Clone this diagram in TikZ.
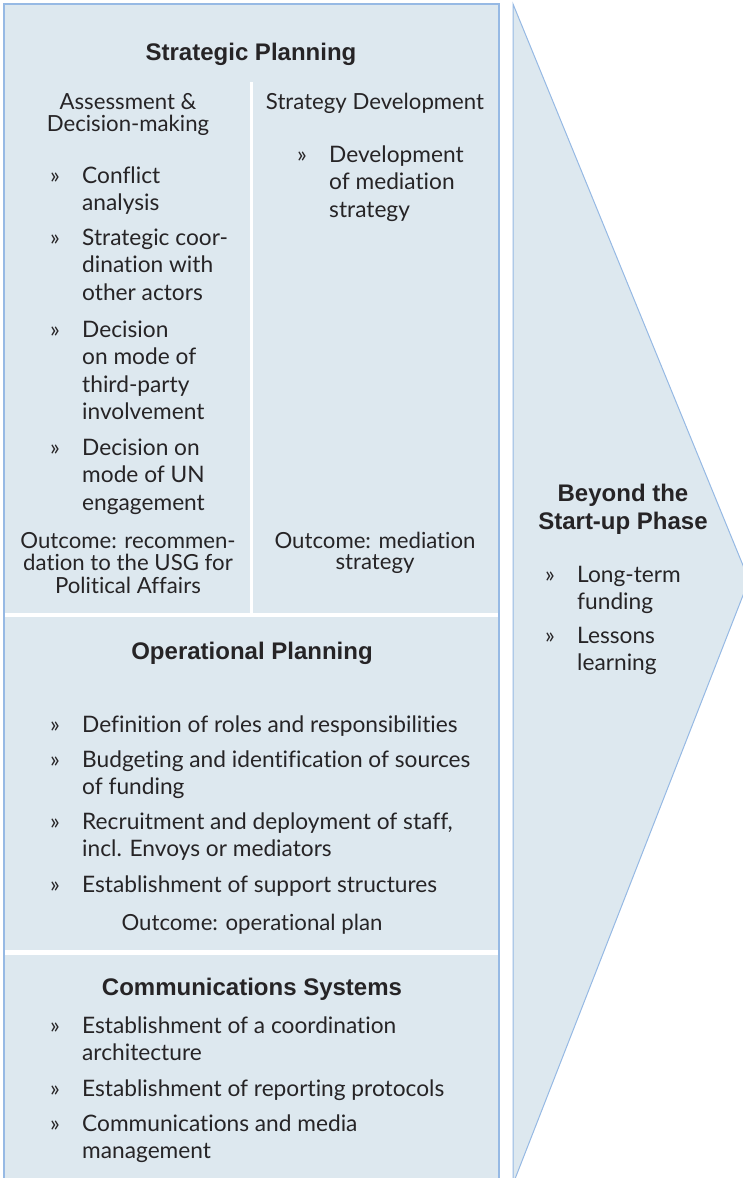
\documentclass[tikz,border=0pt]{standalone}
\usepackage{fontspec}
\setmainfont{Lato}[Ligatures={NoCommon}]
\newfontfamily\headfont{Liberation Sans}
\definecolor{boxfill}{RGB}{221,232,239}
\definecolor{boxline}{RGB}{150,185,228}
\definecolor{txt}{RGB}{38,36,38}
\newcommand\bodysize{\fontsize{22.7}{27.5}\selectfont}
\newcommand\smallsize{\fontsize{22.2}{21.5}\selectfont}
\newcommand\itemtab[1]{\begin{tabular}[t]{@{}p{32pt}@{}l@{}}#1\end{tabular}}
\newcommand\ctab[1]{\begin{tabular}[t]{@{}c@{}}#1\end{tabular}}
\tikzset{
  head/.style={anchor=base, inner sep=0pt, text=txt, font=\headfont\bfseries\fontsize{24}{28}\selectfont},
  bodyitem/.style={anchor=base west, inner sep=0pt, text=txt, font=\bodysize},
  smalltext/.style={anchor=base, inner sep=0pt, text=txt, font=\smallsize},
  sep/.style={draw=white, line width=4pt},
}
\begin{document}
\begin{tikzpicture}[x=1pt,y=-1pt]
\useasboundingbox (0,0) rectangle (742,1178);
% main box
\draw[draw=boxline, fill=boxfill, line width=1.5pt] (4,4) rectangle (499,1200);
% chevron
\draw[draw=boxline, fill=boxfill, line width=1pt] (513,4) -- (749,580) -- (513,1184) -- cycle;
% separators
\draw[sep, line width=3pt] (251.5,82) -- (251.5,614);
\draw[sep] (5,615) -- (498,615);
\draw[sep, line width=5pt] (5,952.5) -- (498,952.5);

% Strategic planning
\node[head] (sp) at (251,60) {Strategic Planning};
\node[smalltext] (ad) at (128,109) {\ctab{Assessment \&\\Decision-making}};
\node[smalltext] (sd) at (375,109) {\ctab{Strategy Development}};
\node[bodyitem] (a1) at (50,183) {\itemtab{»&Conflict\\&analysis}};
\node[bodyitem] (a2) at (50,245) {\itemtab{»&Strategic coor-\\&dination with\\&other actors}};
\node[bodyitem] (a3) at (50,337) {\itemtab{»&Decision\\&on mode of\\&third-party\\&involvement}};
\node[bodyitem] (a4) at (50,455) {\itemtab{»&Decision on\\&mode of UN\\&engagement}};
\node[smalltext] (ao) at (128,548) {\ctab{Outcome: recommen-\\dation to the USG for\\Political Affairs}};
\node[bodyitem] (s1) at (297,162) {\itemtab{»&Development\\&of mediation\\&strategy}};
\node[smalltext] (so) at (375,548) {\ctab{Outcome: mediation\\strategy}};

% Operational planning
\node[head] (op) at (252,659) {Operational Planning};
\node[bodyitem] (o1) at (50,732) {\itemtab{»&Definition of roles and responsibilities}};
\node[bodyitem] (o2) at (50,767) {\itemtab{»&Budgeting and identification of sources\\&of funding}};
\node[bodyitem] (o3) at (50,829) {\itemtab{»&Recruitment and deployment of staff,\\&incl. Envoys or mediators}};
\node[bodyitem] (o4) at (50,892) {\itemtab{»&Establishment of support structures}};
\node[smalltext] (oo) at (252,930) {Outcome: operational plan};

% Communications systems
\node[head] (cs) at (252,995) {Communications Systems};
\node[bodyitem] (c1) at (50,1033) {\itemtab{»&Establishment of a coordination\\&architecture}};
\node[bodyitem] (c2) at (50,1096) {\itemtab{»&Establishment of reporting protocols}};
\node[bodyitem] (c3) at (50,1131) {\itemtab{»&Communications and media\\&management}};

% Beyond the start-up phase
\node[head] (bs) at (623,501) {\ctab{Beyond the\\Start-up Phase}};
\node[bodyitem] (b1) at (545,582) {\itemtab{»&Long-term\\&funding}};
\node[bodyitem] (b2) at (545,643) {\itemtab{»&Lessons\\&learning}};
\end{tikzpicture}
\end{document}
